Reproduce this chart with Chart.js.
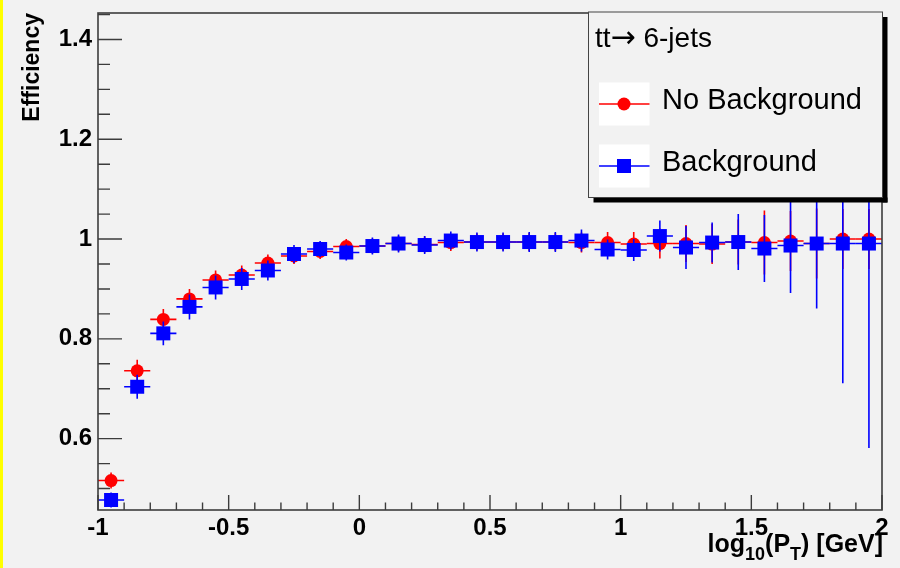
<!DOCTYPE html>
<html><head><meta charset="utf-8">
<script src="https://cdn.jsdelivr.net/npm/chart.js@4/dist/chart.umd.min.js"></script>
<style>html,body{margin:0;padding:0;background:#f2f2f2;overflow:hidden}#wrap{width:900px;height:568px;position:relative}</style>
</head><body><div id="wrap"><canvas id="c" width="900" height="568"></canvas></div>
<script>
// ---- data ----
const binCenters = [-0.95,-0.85,-0.75,-0.65,-0.55,-0.45,-0.35,-0.25,-0.15,-0.05,
  0.05,0.15,0.25,0.35,0.45,0.55,0.65,0.75,0.85,0.95,
  1.05,1.15,1.25,1.35,1.45,1.55,1.65,1.75,1.85,1.95];
const binHalfWidth = [0.05,0.05,0.05,0.05,0.05,0.05,0.05,0.05,0.05,0.05,
  0.05,0.05,0.05,0.05,0.05,0.05,0.05,0.05,0.05,0.05,
  0.05,0.05,0.05,0.05,0.05,0.05,0.05,0.05,0.05,0.05];
const noBkgEff = [0.516,0.736,0.839,0.880,0.918,0.928,0.952,0.966,0.975,0.985,
  0.986,0.991,0.989,0.993,0.994,0.994,0.994,0.994,0.993,0.993,
  0.990,0.991,0.991,0.990,0.994,0.993,0.996,0.991,1.000,1.000];
const noBkgErr = [0.016,0.022,0.021,0.020,0.019,0.019,0.017,0.016,0.015,0.015,
  0.015,0.016,0.016,0.017,0.017,0.017,0.018,0.018,0.020,0.021,
  0.024,0.030,0.037,0.040,0.045,0.064,0.060,0.070,0.060,0.060];
const bkgEff = [0.477,0.704,0.811,0.864,0.903,0.920,0.937,0.970,0.980,0.973,
  0.986,0.991,0.988,0.997,0.994,0.994,0.994,0.994,0.997,0.979,
  0.978,1.006,0.983,0.993,0.994,0.981,0.987,0.991,0.991,0.991];
const bkgErr = [0.015,0.024,0.024,0.025,0.024,0.022,0.020,0.018,0.016,0.016,
  0.017,0.018,0.018,0.018,0.019,0.019,0.020,0.020,0.022,0.020,
  0.022,0.031,0.043,0.040,0.056,0.067,0.095,0.130,0.280,0.410];
const seriesNames = ['No Background','Background'];
const legendTitleParts = ['tt', '\u2192', ' 6-jets'];
const yTitle = 'Efficiency';
const xRange = [-1, 2];
const yRange = [0.457, 1.453];

function pts(eff, err) {
  return binCenters.map((x, i) => ({x: x, y: eff[i], ex: binHalfWidth[i], ey: err[i]}));
}

const AXIS_COLOR = '#3c3c3c';
const FAM = '"Liberation Sans", Arial, sans-serif';

const rootStyle = {
  id: 'rootStyle',
  beforeDraw(chart) {
    const ctx = chart.ctx;
    ctx.save();
    ctx.fillStyle = '#f2f2f2';
    ctx.fillRect(0, 0, chart.width, chart.height);
    ctx.fillStyle = '#ffff00';
    ctx.fillRect(0, 0, 3, chart.height);
    ctx.restore();
  },
  beforeDatasetDraw(chart, args) {
    const ds = chart.data.datasets[args.index];
    const xs = chart.scales.x, ys = chart.scales.y, a = chart.chartArea, ctx = chart.ctx;
    ctx.save();
    ctx.beginPath();
    ctx.rect(a.left, a.top, a.right - a.left, a.bottom - a.top);
    ctx.clip();
    ctx.strokeStyle = ds.borderColor;
    ctx.lineWidth = 1.6;
    ds.data.forEach(p => {
      const px = xs.getPixelForValue(p.x), py = ys.getPixelForValue(p.y);
      ctx.beginPath();
      ctx.moveTo(xs.getPixelForValue(p.x - p.ex), py);
      ctx.lineTo(xs.getPixelForValue(p.x + p.ex), py);
      ctx.moveTo(px, ys.getPixelForValue(p.y - p.ey));
      ctx.lineTo(px, ys.getPixelForValue(p.y + p.ey));
      ctx.stroke();
    });
    ctx.restore();
  },
  afterDatasetsDraw(chart) {
    const xs = chart.scales.x, ys = chart.scales.y, a = chart.chartArea, ctx = chart.ctx;
    ctx.save();
    ctx.strokeStyle = AXIS_COLOR;
    ctx.lineWidth = 1.6;
    ctx.strokeRect(a.left, a.top, a.right - a.left, a.bottom - a.top);
    ctx.lineWidth = 1.4;
    ctx.beginPath();
    for (let k = Math.round(xs.min * 10); k <= Math.round(xs.max * 10); k++) {
      const px = xs.getPixelForValue(k / 10);
      const len = (k % 5 === 0) ? 15 : 7.5;
      ctx.moveTo(px, a.bottom);
      ctx.lineTo(px, a.bottom - len);
    }
    for (let k = Math.ceil(ys.min * 20); k <= Math.floor(ys.max * 20); k++) {
      const py = ys.getPixelForValue(k / 20);
      const len = (k % 4 === 0) ? 24 : 12;
      ctx.moveTo(a.left, py);
      ctx.lineTo(a.left + len, py);
    }
    ctx.stroke();

    ctx.fillStyle = '#000';
    ctx.font = 'bold 23px ' + FAM;
    ctx.save();
    ctx.translate(39, a.top);
    ctx.rotate(-Math.PI / 2);
    ctx.textAlign = 'right';
    ctx.textBaseline = 'alphabetic';
    ctx.fillText(yTitle, 0, 0);
    ctx.restore();

    const parts = [
      ['log', false], ['10', true], ['(P', false], ['T', true], [') [GeV]', false]
    ];
    const mainF = 'bold 25px ' + FAM;
    const subF = 'bold 18px ' + FAM;
    let total = 0;
    parts.forEach(p => { ctx.font = p[1] ? subF : mainF; total += ctx.measureText(p[0]).width; });
    let x = a.right + 1 - total;
    const base = 552;
    ctx.textAlign = 'left';
    ctx.textBaseline = 'alphabetic';
    parts.forEach(p => {
      ctx.font = p[1] ? subF : mainF;
      ctx.fillText(p[0], x, p[1] ? base + 8 : base);
      x += ctx.measureText(p[0]).width;
    });
    ctx.restore();
  },
  afterDraw(chart) {
    const ctx = chart.ctx, a = chart.chartArea;
    const L = 588.5, T = a.top - 1, R = a.right + 0.5, B = 197.5;
    ctx.save();
    ctx.fillStyle = '#000';
    ctx.fillRect(L + 5, B, R - L, 5);
    ctx.fillRect(R, T + 5, 5, B - T);
    ctx.fillStyle = '#f2f2f2';
    ctx.fillRect(L, T, R - L, B - T);
    ctx.strokeStyle = '#444';
    ctx.lineWidth = 1;
    ctx.strokeRect(L, T, R - L, B - T);
    // title
    ctx.fillStyle = '#000';
    ctx.textAlign = 'left';
    ctx.textBaseline = 'middle';
    let tx = 595;
    const fonts = ['28px ' + FAM, '30px "DejaVu Sans", sans-serif', '28px ' + FAM];
    legendTitleParts.forEach((s, i) => {
      ctx.font = fonts[i];
      ctx.fillText(s, tx, 39);
      tx += ctx.measureText(s).width;
    });
    const ds = chart.data.datasets;
    const rows = [104, 166];
    ds.forEach((d, i) => {
      const cy = rows[i];
      ctx.fillStyle = '#ffffff';
      ctx.fillRect(599, cy - 21.5, 50.5, 43);
      ctx.strokeStyle = d.borderColor;
      ctx.lineWidth = 1.4;
      ctx.beginPath();
      ctx.moveTo(599, cy); ctx.lineTo(649.5, cy);
      ctx.stroke();
      ctx.fillStyle = d.backgroundColor;
      if (d.pointStyle === 'circle') {
        ctx.beginPath(); ctx.arc(624, cy, 6.5, 0, Math.PI * 2); ctx.fill();
      } else {
        ctx.fillRect(617, cy - 7, 14, 14);
      }
      ctx.fillStyle = '#000';
      ctx.font = '29px ' + FAM;
      ctx.fillText(d.label, 662, cy - 3);
    });
    ctx.restore();
  }
};

new Chart(document.getElementById('c'), {
  type: 'scatter',
  data: {
    datasets: [
      { label: seriesNames[0], data: pts(noBkgEff, noBkgErr), borderColor: '#ff0000', backgroundColor: '#ff0000',
        pointStyle: 'circle', pointRadius: 6.5, pointBorderWidth: 0, showLine: false, order: 1 },
      { label: seriesNames[1], data: pts(bkgEff, bkgErr), borderColor: '#0000ff', backgroundColor: '#0000ff',
        pointStyle: 'rect', pointRadius: 9.9, pointBorderWidth: 0, showLine: false, order: 0 }
    ]
  },
  options: {
    responsive: false,
    animation: false,
    events: [],
    layout: { padding: { top: 13, right: 18, left: 0, bottom: 0 } },
    plugins: { legend: { display: false }, tooltip: { enabled: false } },
    scales: {
      x: {
        type: 'linear', min: xRange[0], max: xRange[1],
        grid: { display: false, drawTicks: false }, border: { display: false },
        afterFit: s => { s.height = 58; s.paddingLeft = 0; s.paddingRight = 0; },
        ticks: { stepSize: 0.5, includeBounds: false, padding: 4, color: '#000', maxRotation: 0, autoSkip: false,
          font: { family: FAM, size: 24, weight: 'bold' },
          callback: v => String(Number(v.toFixed(1))) }
      },
      y: {
        type: 'linear', min: yRange[0], max: yRange[1],
        grid: { display: false, drawTicks: false }, border: { display: false },
        afterFit: s => { s.width = 98; s.paddingTop = 0; s.paddingBottom = 0; },
        ticks: { stepSize: 0.2, includeBounds: false, padding: 6, color: '#000', autoSkip: false,
          font: { family: FAM, size: 24, weight: 'bold' },
          callback: v => String(Number(v.toFixed(1))) }
      }
    }
  },
  plugins: [rootStyle]
});
</script></body></html>
